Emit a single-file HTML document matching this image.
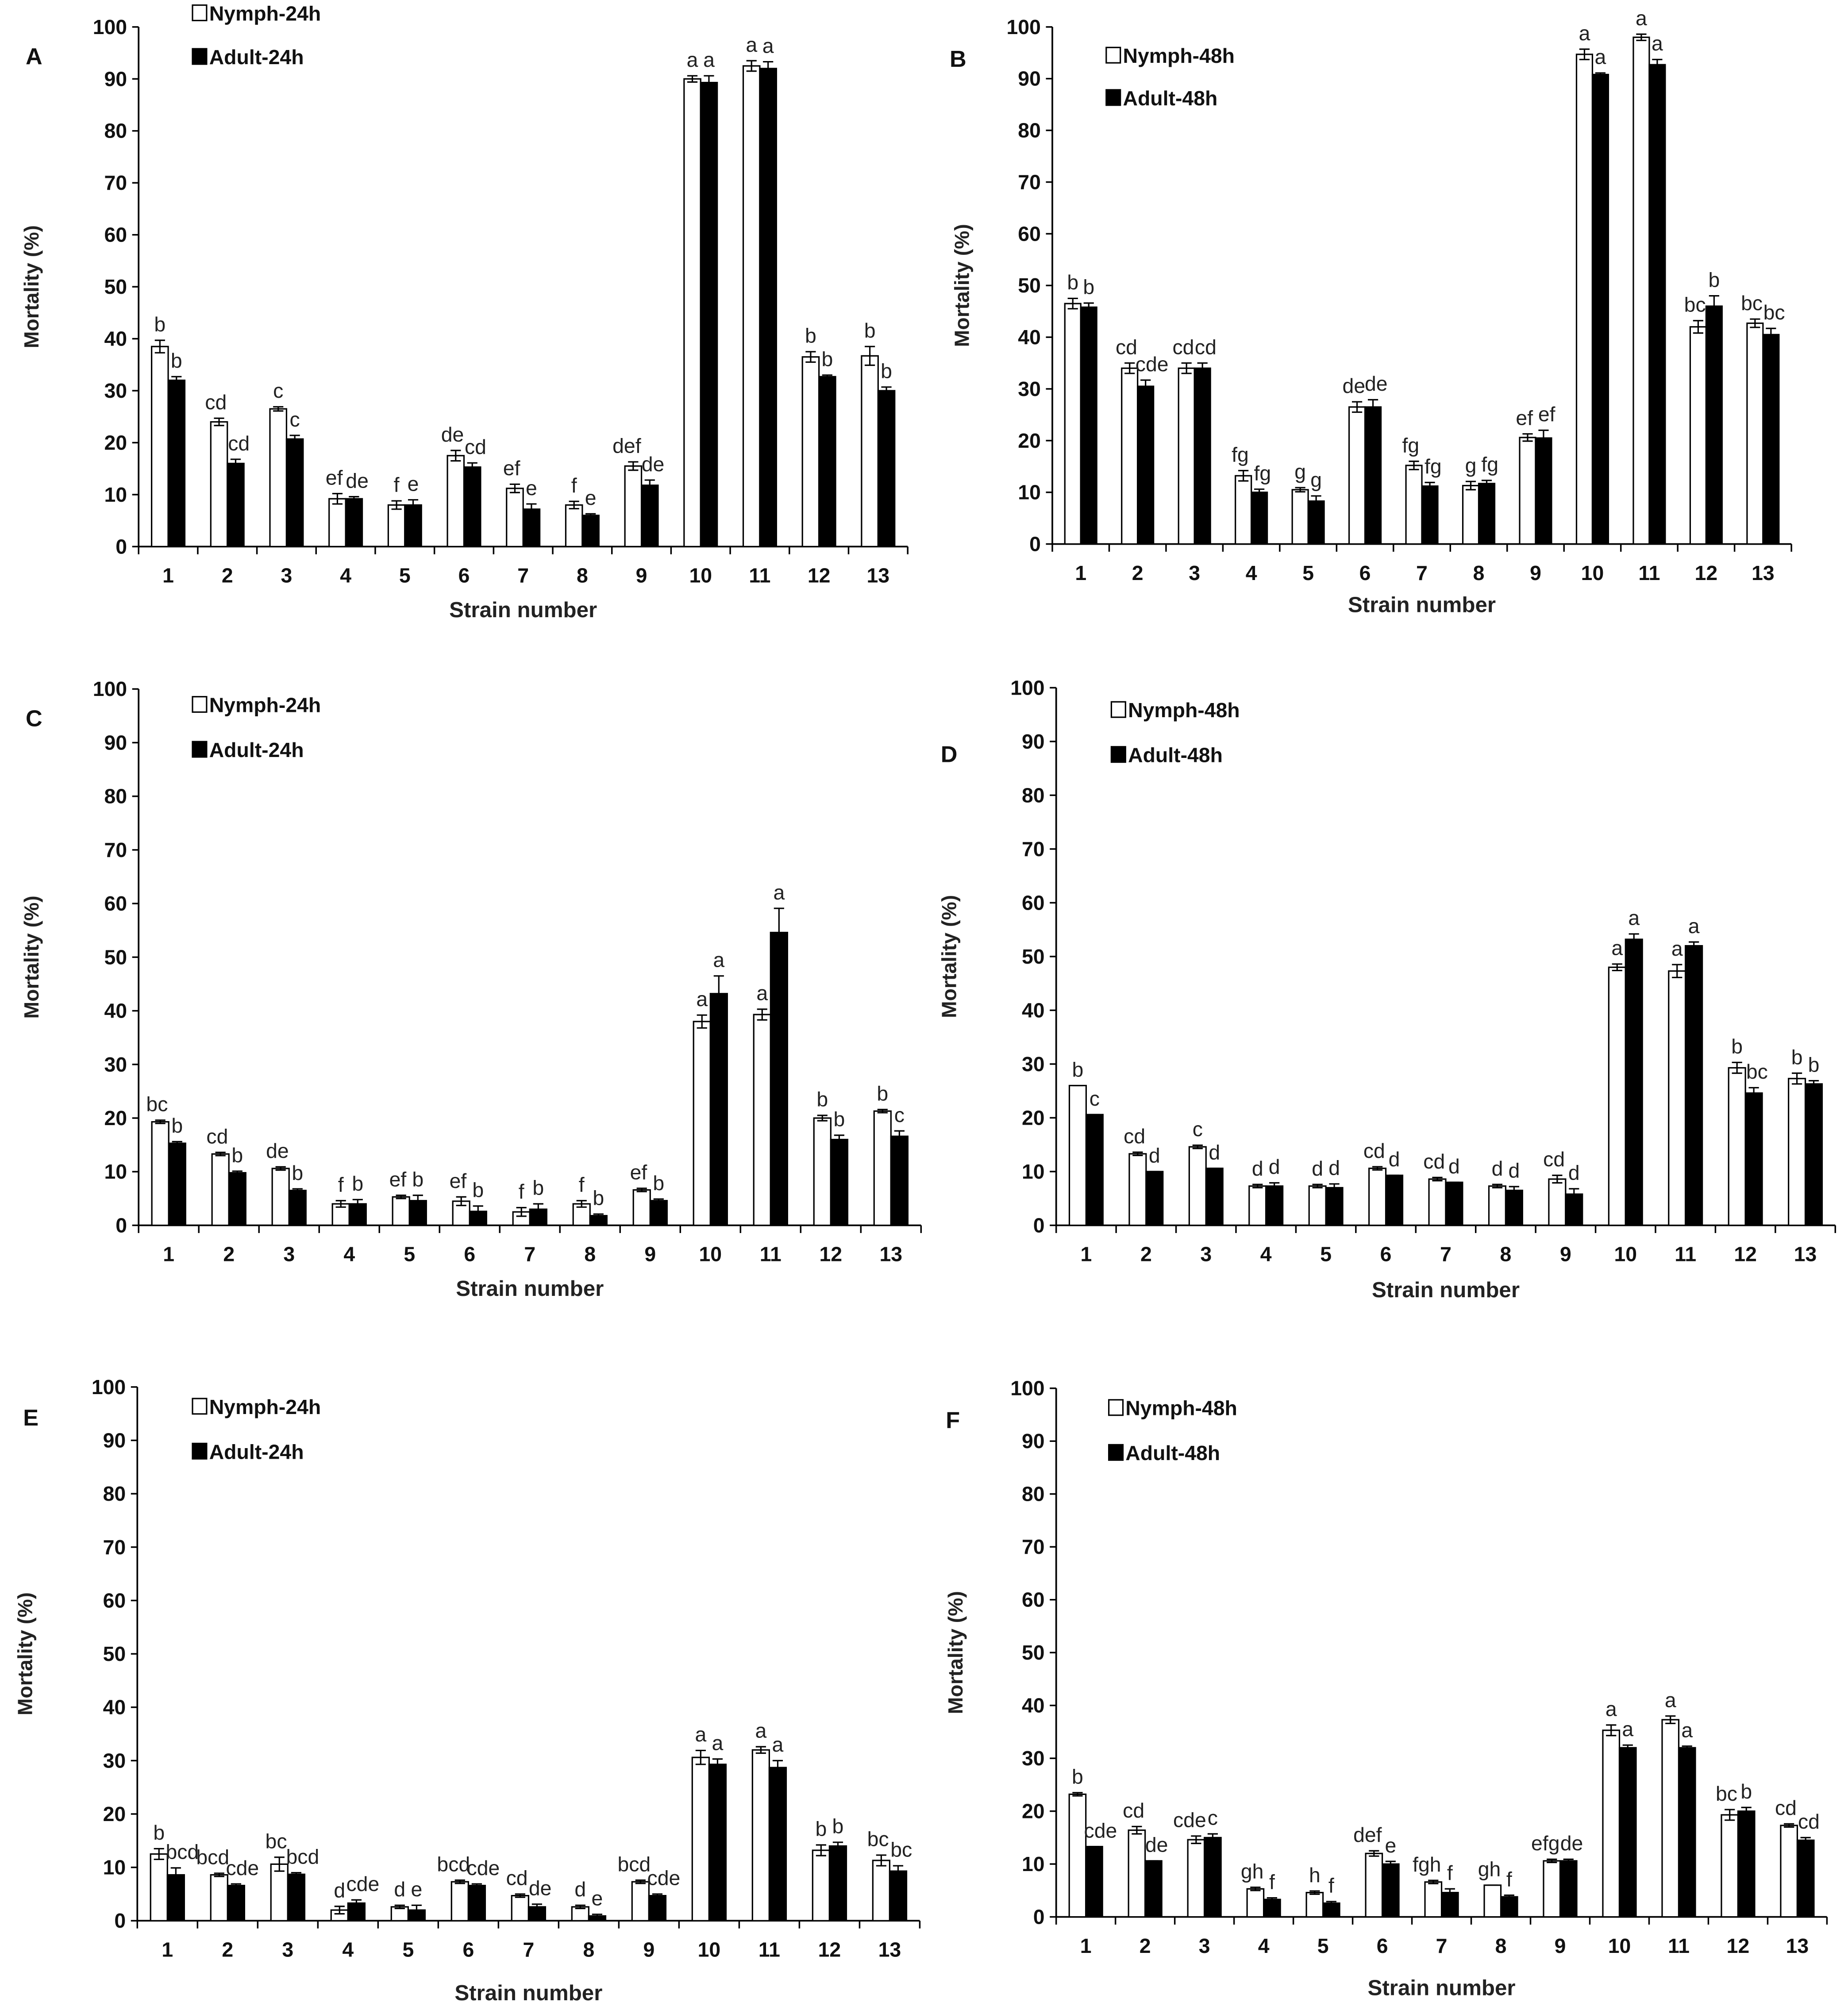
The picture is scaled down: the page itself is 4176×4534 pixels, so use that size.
<!DOCTYPE html>
<html><head><meta charset="utf-8"><style>
html,body{margin:0;padding:0;background:#fff}
svg{display:block}
text{font-family:"Liberation Sans",sans-serif}
</style></head><body>
<svg id="fig" width="4176" height="4534" viewBox="0 0 1440 1563.45" xmlns="http://www.w3.org/2000/svg"></svg>
<script>
const categories=["1","2","3","4","5","6","7","8","9","10","11","12","13"];
const yTicks=[0,10,20,30,40,50,60,70,80,90,100];
const aNymph=[38.5,24,26.5,9.2,8,17.5,11.2,8,15.5,90,92.5,36.5,36.7];
const aNymphErr=[1.2,0.7,0.4,1,0.8,1,0.8,0.7,0.8,0.6,1,1,1.8];
const aAdult=[32,16,20.7,9.2,8,15.3,7.2,6,11.8,89.3,92,32.7,30];
const aAdultErr=[0.7,0.8,0.7,0.4,1,0.8,1,0.3,1,1.3,1.3,0.3,0.7];
const aNymphLbl=["b","cd","c","ef","f","de","ef","f","def","a","a","b","b"];
const aAdultLbl=["b","cd","c","de","e","cd","e","e","de","a","a","b","b"];
const bNymph=[46.5,34,34,13.2,10.5,26.5,15.2,11.3,20.6,94.7,98,42,42.7];
const bNymphErr=[1,1,1,1,0.4,1,0.8,0.8,0.7,1,0.6,1.2,0.8];
const bAdult=[45.8,30.5,34,10,8.3,26.5,11.2,11.7,20.5,90.8,92.7,46,40.5];
const bAdultErr=[0.8,1.2,1,0.6,1,1.4,0.7,0.6,1.5,0.3,1,2,1.2];
const bNymphLbl=["b","cd","cd","fg","g","de","fg","g","ef","a","a","bc","bc"];
const bAdultLbl=["b","cde","cd","fg","g","de","fg","fg","ef","a","a","b","bc"];
const cNymph=[19.3,13.3,10.6,4,5.3,4.5,2.5,4,6.6,38,39.3,20,21.3];
const cNymphErr=[0.3,0.3,0.3,0.6,0.3,0.8,0.8,0.6,0.3,1.2,1,0.5,0.3];
const cAdult=[15.3,9.8,6.5,4,4.6,2.6,3,1.8,4.6,43.2,54.6,16,16.6];
const cAdultErr=[0.3,0.3,0.3,0.8,1,1,1,0.3,0.3,3.3,4.5,0.8,1];
const cNymphLbl=["bc","cd","de","f","ef","ef","f","f","ef","a","a","b","b"];
const cAdultLbl=["b","b","b","b","b","b","b","b","b","a","a","b","c"];
const dNymph=[26,13.3,14.6,7.3,7.3,10.6,8.6,7.3,8.6,48,47.3,29.3,27.3];
const dNymphErr=[0,0.3,0.3,0.3,0.3,0.3,0.3,0.3,0.7,0.6,1.2,1,1];
const dAdult=[20.6,10,10.6,7.3,7,9.3,8,6.5,5.8,53.2,52,24.6,26.3];
const dAdultErr=[0,0,0,0.6,0.7,0,0,0.7,1,1,0.7,1,0.6];
const dNymphLbl=["b","cd","c","d","d","cd","cd","d","cd","a","a","b","b"];
const dAdultLbl=["c","d","d","d","d","d","d","d","d","a","a","bc","b"];
const eNymph=[12.5,8.6,10.6,2,2.6,7.3,4.7,2.6,7.3,30.6,32,13.2,11.3];
const eNymphErr=[1,0.3,1.3,0.7,0.3,0.3,0.3,0.3,0.3,1.3,0.6,1,1];
const eAdult=[8.6,6.6,8.7,3.3,2,6.6,2.6,0.9,4.7,29.3,28.7,14,9.3];
const eAdultErr=[1.3,0.3,0.3,0.6,0.9,0.3,0.5,0.3,0.3,1,1.3,0.7,1];
const eNymphLbl=["b","bcd","bc","d","d","bcd","cd","d","bcd","a","a","b","bc"];
const eAdultLbl=["bcd","cde","bcd","cde","e","cde","de","e","cde","a","a","b","bc"];
const fNymph=[23.2,16.4,14.6,5.3,4.6,12,6.6,6,10.6,35.3,37.3,19.3,17.3];
const fNymphErr=[0.3,0.7,0.7,0.3,0.3,0.5,0.3,0,0.3,1,0.7,1,0.3];
const fAdult=[13.3,10.6,15,3.3,2.6,10,4.6,3.8,10.6,32,32,20,14.5];
const fAdultErr=[0,0,0.7,0.3,0.3,0.5,0.7,0.3,0.3,0.5,0.3,0.7,0.5];
const fNymphLbl=["b","cd","cde","gh","h","def","fgh","gh","efg","a","a","bc","cd"];
const fAdultLbl=["cde","de","c","f","f","e","f","f","de","a","a","b","cd"];

const NS="http://www.w3.org/2000/svg";
const svg=document.getElementById('fig');
function mk(tag,attrs,parent){const e=document.createElementNS(NS,tag);for(const k in attrs)e.setAttribute(k,attrs[k]);parent.appendChild(e);return e;}
function txt(s,attrs,parent){const e=mk('text',attrs,parent);e.textContent=s;return e;}

const panels=[
 {id:'A',ax:108,top:21,bot:426,cw:46.1,letter:[20,50],leg:[150,16,50],stitle:481,ytx:30,n:aNymph,ne:aNymphErr,a:aAdult,ae:aAdultErr,nl:aNymphLbl,al:aAdultLbl,h:'24h'},
 {id:'B',ax:820,top:21,bot:424,cw:44.3,letter:[740,52],leg:[862,49,82],stitle:477,ytx:755,n:bNymph,ne:bNymphErr,a:bAdult,ae:bAdultErr,nl:bNymphLbl,al:bAdultLbl,h:'48h'},
 {id:'C',ax:108,top:537,bot:955,cw:46.9,letter:[20,566],leg:[150,555,590],stitle:1010,ytx:30,n:cNymph,ne:cNymphErr,a:cAdult,ae:cAdultErr,nl:cNymphLbl,al:cAdultLbl,h:'24h'},
 {id:'D',ax:823,top:536,bot:955,cw:46.7,letter:[733,594],leg:[866,559,594],stitle:1011,ytx:745,n:dNymph,ne:dNymphErr,a:dAdult,ae:dAdultErr,nl:dNymphLbl,al:dAdultLbl,h:'48h'},
 {id:'E',ax:107,top:1081,bot:1497,cw:46.9,letter:[18,1111],leg:[150,1102,1137],stitle:1559,ytx:25,n:eNymph,ne:eNymphErr,a:eAdult,ae:eAdultErr,nl:eNymphLbl,al:eAdultLbl,h:'24h'},
 {id:'F',ax:823,top:1082,bot:1494,cw:46.2,letter:[737,1113],leg:[864,1103,1138],stitle:1555,ytx:750,n:fNymph,ne:fNymphErr,a:fAdult,ae:fAdultErr,nl:fNymphLbl,al:fAdultLbl,h:'48h'}
];

panels.forEach(p=>{
  const g=mk('g',{},svg);
  
  
  const y=v=>p.bot-(p.bot-p.top)*v/100;
  const xr=p.ax+p.cw*categories.length;
  const bw=p.cw*0.28;
  const yax=mk('line',{x1:p.ax,y1:p.top,x2:p.ax,y2:p.bot,stroke:'#000','stroke-width':1.3},g);
  
  
  const xax=mk('line',{x1:p.ax,y1:p.bot,x2:xr,y2:p.bot,stroke:'#000','stroke-width':1.3},g);
  
  
  yTicks.forEach(t=>{
    mk('line',{x1:p.ax-5,y1:y(t),x2:p.ax,y2:y(t),stroke:'#000','stroke-width':1.2},g);
    const tl=txt(String(t),{x:p.ax-9,y:y(t)+5.5,'text-anchor':'end','font-size':16,'font-weight':'bold',fill:'#111'},g);
    
    
  });
  for(let i=0;i<=categories.length;i++){
    mk('line',{x1:p.ax+p.cw*i,y1:p.bot,x2:p.ax+p.cw*i,y2:p.bot+6,stroke:'#000','stroke-width':1.2},g);
  }
  categories.forEach((c,i)=>{
    const cx=p.ax+p.cw*(i+0.5);
    const xl=txt(c,{x:cx,y:p.bot+28,'text-anchor':'middle','font-size':16,'font-weight':'bold',fill:'#111'},g);
    
    
    [[p.n,p.ne,p.nl,cx-bw,'#fff','nymph',-1],[p.a,p.ae,p.al,cx,'#000','adult',1]].forEach(s=>{
      const v=s[0][i],e=s[1][i];
      const r=mk('rect',{x:s[3],y:y(v),width:bw,height:p.bot-y(v),fill:s[4],stroke:'#000','stroke-width':1.1},g);
      
      
      const bx=s[3]+bw/2;
      const eb=mk('path',{d:`M${bx},${y(v+e)}V${y(v-e)}M${bx-4},${y(v+e)}H${bx+4}M${bx-4},${y(v-e)}H${bx+4}`,stroke:'#000','stroke-width':1.1,fill:'none'},g);
      
      
      const lab=s[2][i];
      const shift=lab.length>1?s[6]*(lab.length-1)*2.5:0;
      const lt=txt(lab,{x:bx+shift,y:y(v+e)-7,'text-anchor':'middle','font-size':16,fill:'#222'},g);
      
      
    });
  });
  const st=txt('Strain number',{x:(p.ax+xr)/2,y:p.stitle,'text-anchor':'middle','font-size':17,'font-weight':'bold',fill:'#222'},g);
  
  
  const ym=(p.top+p.bot)/2;
  const yt=txt('Mortality (%)',{x:p.ytx,y:ym,'text-anchor':'middle','font-size':16,'font-weight':'bold',fill:'#222',transform:`rotate(-90 ${p.ytx} ${ym})`},g);
  
  
  const pl=txt(p.id,{x:p.letter[0],y:p.letter[1],'font-size':18,'font-weight':'bold',fill:'#111'},g);
  
  
  [['Nymph-'+p.h,'#fff',p.leg[1]],['Adult-'+p.h,'#000',p.leg[2]]].forEach(L=>{
    const lg=mk('g',{},g);
    
    
    mk('rect',{x:p.leg[0],y:L[2]-12,width:11,height:12,fill:L[1],stroke:'#000','stroke-width':1.1},lg);
    txt(L[0],{x:p.leg[0]+13,y:L[2],'font-size':16,'font-weight':'bold',fill:'#111'},lg);
  });
});
</script>
</body></html>
